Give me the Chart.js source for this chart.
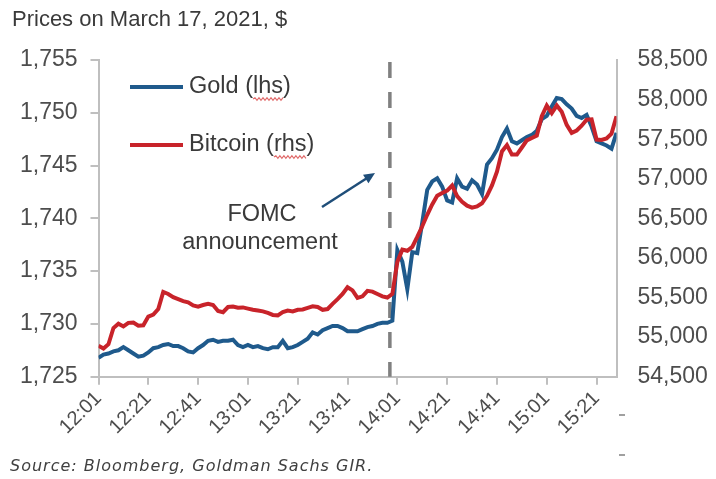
<!DOCTYPE html>
<html>
<head>
<meta charset="utf-8">
<script src="https://cdn.jsdelivr.net/npm/chart.js@4/dist/chart.umd.min.js"></script>
<style>
  html, body { margin: 0; padding: 0; background: #fff; }
  canvas { display: block; }
</style>
</head>
<body>
<canvas id="priceChart" width="716" height="479"></canvas>
<script>
// Gold and Bitcoin, sampled every 2 minutes from 12:01 to 15:29
const gold = [
  1726.8, 1727.1, 1727.2, 1727.4, 1727.5, 1727.8, 1727.5, 1727.2, 1726.9, 1727.0,
  1727.3, 1727.7, 1727.8, 1728.0, 1728.1, 1727.9, 1727.9, 1727.7, 1727.4, 1727.3,
  1727.7, 1728.0, 1728.4, 1728.5, 1728.3, 1728.4, 1728.4, 1728.5, 1728.0, 1727.8,
  1728.0, 1727.8, 1727.9, 1727.7, 1727.6, 1727.8, 1727.8, 1728.4, 1727.7, 1727.8,
  1728.0, 1728.3, 1728.6, 1729.2, 1729.0, 1729.4, 1729.6, 1729.8, 1729.8, 1729.6,
  1729.3, 1729.3, 1729.3, 1729.5, 1729.7, 1729.8, 1730.0, 1730.1, 1730.1, 1730.3,
  1737.0, 1735.9, 1733.3, 1736.8, 1736.7, 1739.6, 1742.7, 1743.5, 1743.8, 1743.0,
  1741.7, 1741.5, 1743.8, 1743.0, 1742.8, 1743.6, 1743.2, 1742.3, 1745.1, 1745.7,
  1746.5, 1747.7, 1748.5, 1747.3, 1747.1, 1747.4, 1747.7, 1747.9, 1748.3, 1749.4,
  1749.7, 1750.6, 1751.4, 1751.3, 1750.8, 1750.4, 1749.7, 1749.5, 1749.8, 1748.7,
  1747.3, 1747.1, 1746.9, 1746.6, 1748.1
];
const bitcoin = [
  54890, 54855, 54910, 55115, 55170, 55135, 55180, 55185, 55145, 55150,
  55260, 55285, 55355, 55570, 55545, 55505, 55480, 55455, 55440, 55400,
  55385, 55405, 55420, 55405, 55330, 55315, 55380, 55385, 55370, 55375,
  55360, 55345, 55335, 55325, 55305, 55280, 55275, 55315, 55335, 55325,
  55345, 55350, 55370, 55390, 55380, 55345, 55355, 55420, 55480, 55545,
  55630, 55590, 55495, 55515, 55585, 55575, 55545, 55515, 55500, 55545,
  55950, 56105, 56090, 56140, 56265, 56400, 56545, 56675, 56785, 56820,
  56850, 56915, 56780, 56710, 56660, 56635, 56650, 56690, 56785, 56915,
  57090, 57345, 57425, 57305, 57305, 57395, 57485, 57515, 57545, 57790,
  57925, 57830, 57925, 57845, 57680, 57580, 57610, 57670, 57745, 57750,
  57495, 57490, 57510, 57570, 57790
];
// minutes after 12:01
const minutes = gold.map((_, i) => i * 2);
const tickLabels = ['12:01', '12:21', '12:41', '13:01', '13:21', '13:41',
                    '14:01', '14:21', '14:41', '15:01', '15:21'];
const fomcMinute = 117;

const seriesNames = ['Gold (lhs)', 'Bitcoin (rhs)'];
const GOLD = '#1f5a8c';
const BTC = '#c8232a';
const AXIS = '#bfbfbf';
const TEXT = '#4d4d4d';
const FONT = '"Liberation Sans", Arial, sans-serif';

Chart.defaults.font.family = FONT;
Chart.defaults.color = TEXT;

function squiggle(ctx, x0, x1, y) {
  ctx.beginPath();
  ctx.moveTo(x0, y);
  let up = true;
  for (let x = x0 + 2; x <= x1; x += 2) {
    ctx.lineTo(x, up ? y - 1.3 : y + 1.3);
    up = !up;
  }
  ctx.stroke();
}

const extras = {
  id: 'extras',
  beforeDatasetsDraw(chart) {
    const { ctx, chartArea, scales } = chart;
    const x = scales.x.getPixelForValue(fomcMinute);
    ctx.save();
    ctx.strokeStyle = '#808080';
    ctx.lineWidth = 3.5;
    ctx.setLineDash([16, 14]);
    ctx.beginPath();
    ctx.moveTo(x, chartArea.top + 2);
    ctx.lineTo(x, chartArea.bottom);
    ctx.stroke();
    ctx.restore();
  },
  afterDraw(chart) {
    const { ctx } = chart;
    ctx.save();
    ctx.textBaseline = 'middle';

    // title
    ctx.fillStyle = '#3a3a3a';
    ctx.font = '22px ' + FONT;
    ctx.fillText('Prices on March 17, 2021, $', 12, 20);

    // legend
    const rows = [
      { color: GOLD, text: seriesNames[0], y: 87, pre: 'Gold (', mark: 'lhs' },
      { color: BTC, text: seriesNames[1], y: 145, pre: 'Bitcoin (', mark: 'rhs' }
    ];
    ctx.font = '23.5px ' + FONT;
    rows.forEach(r => {
      ctx.strokeStyle = r.color;
      ctx.lineWidth = 4;
      ctx.beginPath();
      ctx.moveTo(130, r.y);
      ctx.lineTo(183, r.y);
      ctx.stroke();
      ctx.fillStyle = '#3a3a3a';
      ctx.fillText(r.text, 189, r.y);
      const sx = 189 + ctx.measureText(r.pre).width;
      const sw = ctx.measureText(r.mark).width;
      ctx.strokeStyle = '#e06a6a';
      ctx.lineWidth = 1.2;
      squiggle(ctx, sx, sx + sw, r.y + 12);
    });

    // FOMC note and arrow
    ctx.fillStyle = '#3a3a3a';
    ctx.textAlign = 'center';
    ctx.fillText('FOMC', 262, 215);
    ctx.fillText('announcement', 260, 243);
    ctx.strokeStyle = '#1f4e79';
    ctx.fillStyle = '#1f4e79';
    ctx.lineWidth = 2.5;
    const ax0 = 322, ay0 = 207, ax1 = 375, ay1 = 173;
    const ang = Math.atan2(ay1 - ay0, ax1 - ax0);
    ctx.beginPath();
    ctx.moveTo(ax0, ay0);
    ctx.lineTo(ax1 - 8 * Math.cos(ang), ay1 - 8 * Math.sin(ang));
    ctx.stroke();
    ctx.beginPath();
    ctx.moveTo(ax1, ay1);
    ctx.lineTo(ax1 - 11 * Math.cos(ang) + 5 * Math.sin(ang), ay1 - 11 * Math.sin(ang) - 5 * Math.cos(ang));
    ctx.lineTo(ax1 - 11 * Math.cos(ang) - 5 * Math.sin(ang), ay1 - 11 * Math.sin(ang) + 5 * Math.cos(ang));
    ctx.closePath();
    ctx.fill();

    // stray dashes at the right edge
    ctx.strokeStyle = '#808080';
    ctx.lineWidth = 1.5;
    [415, 455].forEach(y => {
      ctx.beginPath();
      ctx.moveTo(619, y);
      ctx.lineTo(625, y);
      ctx.stroke();
    });

    // source
    ctx.textAlign = 'left';
    ctx.fillStyle = '#404040';
    ctx.font = 'italic 16px "DejaVu Sans", sans-serif';
    ctx.letterSpacing = '1px';
    ctx.fillText('Source: Bloomberg, Goldman Sachs GIR.', 10, 467);
    ctx.restore();
  }
};

new Chart(document.getElementById('priceChart'), {
  type: 'line',
  data: {
    datasets: [
      {
        label: seriesNames[0],
        data: minutes.map((m, i) => ({ x: m, y: gold[i] })),
        yAxisID: 'y',
        borderColor: GOLD,
        borderWidth: 4,
        pointRadius: 0,
        tension: 0,
        order: 2
      },
      {
        label: seriesNames[1],
        data: minutes.map((m, i) => ({ x: m, y: bitcoin[i] })),
        yAxisID: 'y1',
        borderColor: BTC,
        borderWidth: 4,
        pointRadius: 0,
        tension: 0,
        order: 1
      }
    ]
  },
  options: {
    responsive: false,
    animation: false,
    layout: { padding: { top: 60 } },
    plugins: { legend: { display: false }, tooltip: { enabled: false } },
    scales: {
      x: {
        type: 'linear',
        min: 0,
        max: 208,
        afterFit: s => { s.height = 102.3; },
        border: { color: AXIS, width: 2 },
        grid: { drawOnChartArea: false, color: AXIS, lineWidth: 2, tickLength: 8 },
        ticks: {
          stepSize: 20,
          includeBounds: false,
          autoSkip: false,
          minRotation: 45,
          maxRotation: 45,
          padding: 2,
          font: { size: 20 },
          callback: v => tickLabels[v / 20] ?? null
        }
      },
      y: {
        position: 'left',
        min: 1725,
        max: 1755,
        afterFit: s => { s.width = 98.5; },
        border: { color: AXIS, width: 2 },
        grid: { drawOnChartArea: false, color: AXIS, lineWidth: 2, tickLength: 8 },
        ticks: {
          stepSize: 5,
          padding: 13,
          font: { size: 23 },
          callback: v => v.toLocaleString('en-US')
        }
      },
      y1: {
        position: 'right',
        min: 54500,
        max: 58500,
        afterFit: s => { s.width = 99.5; },
        border: { color: AXIS, width: 2 },
        grid: { drawOnChartArea: false, drawTicks: false },
        ticks: {
          stepSize: 500,
          padding: 21,
          font: { size: 23 },
          callback: v => v.toLocaleString('en-US')
        }
      }
    }
  },
  plugins: [extras]
});
</script>
</body>
</html>
